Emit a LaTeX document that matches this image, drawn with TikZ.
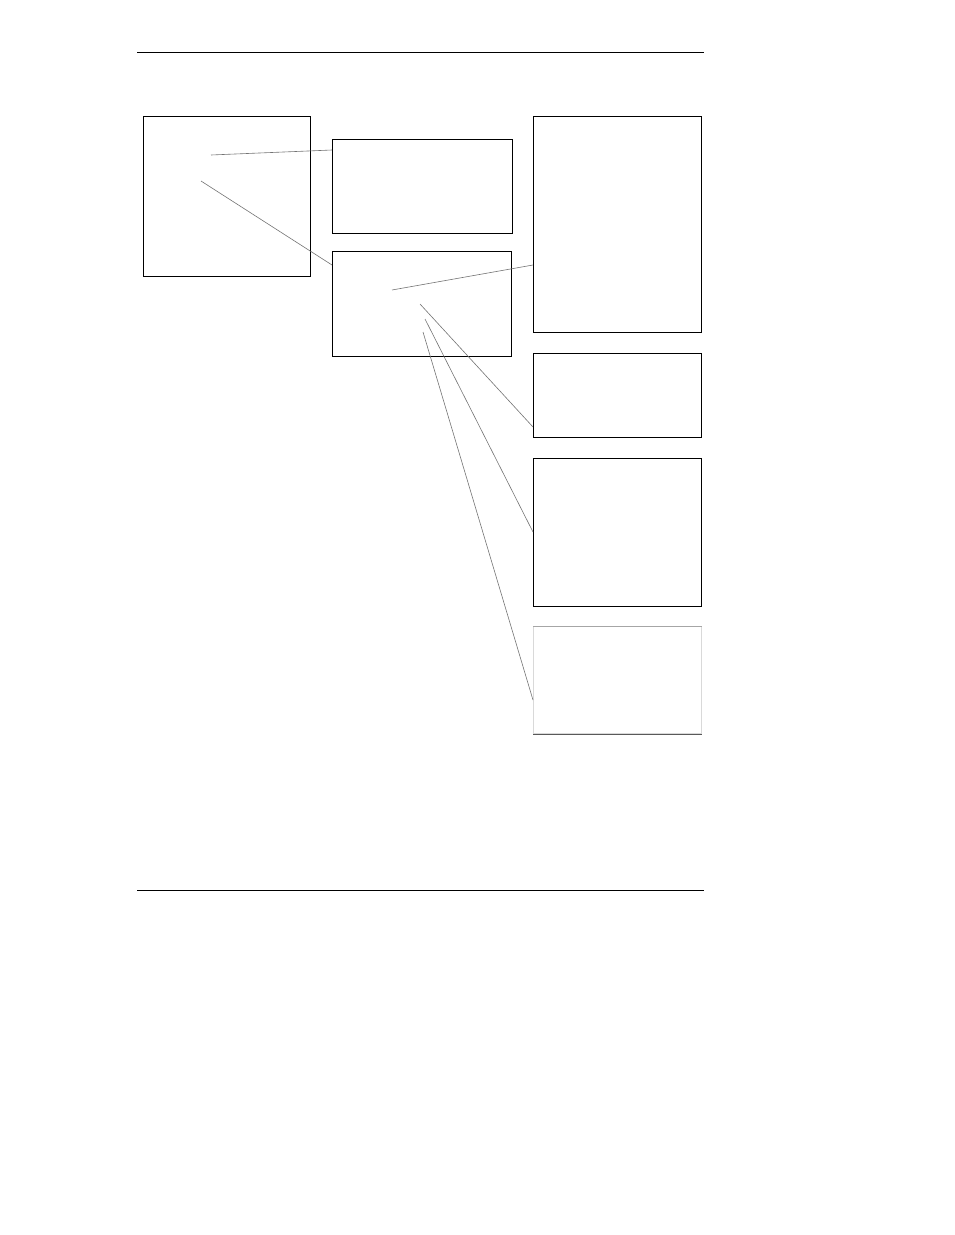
\documentclass[tikz,border=0pt]{standalone}
\usetikzlibrary{calc}

\begin{document}
\begin{tikzpicture}[x=0.75pt, y=-0.75pt,
		panel/.style={draw, line width=0.8pt, rectangle, inner sep=0pt, anchor=north west},
		leader/.style={draw=black!55, line width=0.45pt}]
		\def\u{0.75pt};
		
		\useasboundingbox (0,0) rectangle (954,1235);
		
		\coordinate (rule top L) at (137,52);
		\coordinate (rule top R) at (704,52);
		\coordinate (rule bot L) at (137,890);
		\coordinate (rule bot R) at (704,890);
		
		\begin{scope}[line width=0.6pt]
			\draw (rule top L) -- (rule top R);
			\draw (rule bot L) -- (rule bot R);
		\end{scope}
		
		% left and middle column
		\node [panel, minimum width=167*\u, minimum height=160*\u] (src) at (143,116) {};
		\node [panel, minimum width=180*\u, minimum height=94*\u] (upper) at (332,139) {};
		\node [panel, minimum width=179*\u, minimum height=105*\u] (hub) at (332,251) {};
		
		% right column
		\node [panel, minimum width=168*\u, minimum height=216*\u] (out A) at (533,116) {};
		\node [panel, minimum width=168*\u, minimum height=84*\u] (out B) at (533,353) {};
		\node [panel, minimum width=168*\u, minimum height=148*\u] (out C) at (533,458) {};
		\node [panel, draw=black!15, minimum width=168*\u, minimum height=107*\u] (out D) at (533,626) {};
		\draw [black!35, line width=0.6pt] (out D.north west) -- (out D.north east);
		\draw [black!65, line width=0.6pt] (out D.south west) -- (out D.south east);
		
		% free ends of the leaders
		\coordinate (src a) at (211,155);
		\coordinate (src b) at (201,181);
		\coordinate (hub a) at (392,290);
		\coordinate (hub b) at (420,304);
		\coordinate (hub c) at (425,319);
		\coordinate (hub d) at (423,332);
		
		\begin{scope}[leader]
			\draw (src a) -- ([yshift=-11*\u]upper.north west);
			\draw (src b) -- ([yshift=-14*\u]hub.north west);
			\draw (hub a) -- ([yshift=-149*\u]out A.north west);
			\draw (hub b) -- ([yshift=-74*\u]out B.north west);
			\draw (hub c) -- ([yshift=-74*\u]out C.north west);
			\draw (hub d) -- ([yshift=-74*\u]out D.north west);
		\end{scope}
	\end{tikzpicture}
\end{document}
